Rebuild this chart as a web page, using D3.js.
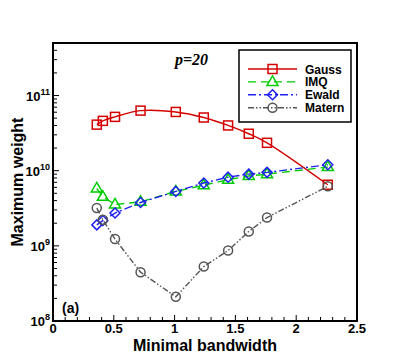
<!DOCTYPE html>
<html>
<head>
<meta charset="utf-8">
<script src="https://d3js.org/d3.v7.min.js"></script>
<style>
  body { margin: 0; background: #fff; }
  text { font-family: "Liberation Sans", Arial, sans-serif; font-weight: bold; }
</style>
</head>
<body>
<div id="graph"></div>
<script>
"use strict";

var bandwidth = [0.36, 0.41, 0.51, 0.72, 1.01, 1.24, 1.44, 1.61, 1.76, 2.26];
var gauss  = [4.1e10, 4.6e10, 5.2e10, 6.3e10, 6.05e10, 5.1e10, 4.0e10, 3.1e10, 2.35e10, 6.5e9];
var imq    = [5.8e9, 4.5e9, 3.55e9, 3.85e9, 5.3e9, 6.4e9, 7.6e9, 8.5e9, 9.0e9, 1.12e10];
var ewald  = [1.9e9, 2.17e9, 2.73e9, 3.77e9, 5.3e9, 6.85e9, 8.2e9, 9.0e9, 9.5e9, 1.2e10];
var matern = [3.18e9, 2.22e9, 1.23e9, 4.46e8, 2.1e8, 5.3e8, 8.65e8, 1.55e9, 2.38e9, 6.2e9];
var seriesNames = ["Gauss", "IMQ", "Ewald", "Matern"];
var xTicks = [0, 0.5, 1, 1.5, 2, 2.5];
var yTicks = [8, 9, 10, 11];

(function () {
    var W = 407, H = 362;
    var pLeft = 53, pTop = 43, pRight = 357, pBottom = 321;

    var x = d3.scaleLinear().domain([0, 2.5]).range([pLeft, pRight]);
    var y = d3.scaleLog().domain([1e8, 5e11]).range([pBottom, pTop]);

    var svg = d3.select("#graph").append("svg")
        .attr("width", W).attr("height", H);

    var series = [
        {name: "Gauss", values: gauss, color: "#d40000", dash: null, marker: "square", curve: d3.curveCatmullRom},
        {name: "IMQ", values: imq, color: "#00cc00", dash: "8,5", marker: "triangle", curve: d3.curveLinear},
        {name: "Ewald", values: ewald, color: "#2020f0", dash: "8,3,2,3", marker: "diamond", curve: d3.curveLinear},
        {name: "Matern", values: matern, color: "#555555", dash: "6,2,1.5,2,1.5,2", marker: "circle", curve: d3.curveLinear}
    ];

    function drawMarker(g, type, cx, cy, color) {
        if (type === "square") {
            g.append("rect").attr("x", cx - 4.5).attr("y", cy - 4.5)
                .attr("width", 9).attr("height", 9);
        } else if (type === "triangle") {
            g.append("path").attr("d", "M" + cx + "," + (cy - 6) + "L" + (cx + 5.5) + "," + (cy + 3.5) + "L" + (cx - 5.5) + "," + (cy + 3.5) + "Z");
        } else if (type === "diamond") {
            g.append("path").attr("d", "M" + cx + "," + (cy - 5) + "L" + (cx + 5) + "," + cy + "L" + cx + "," + (cy + 5) + "L" + (cx - 5) + "," + cy + "Z");
        } else {
            g.append("circle").attr("cx", cx).attr("cy", cy).attr("r", 4.5);
        }
        g.selectAll("*").attr("fill", "none").attr("stroke", color).attr("stroke-width", 1.5);
    }

    // series
    series.forEach(function (s) {
        var line = d3.line()
            .x(function (d, i) { return x(bandwidth[i]); })
            .y(function (d) { return y(d); })
            .curve(s.curve);
        svg.append("path")
            .datum(s.values)
            .attr("d", line)
            .attr("fill", "none")
            .attr("stroke", s.color)
            .attr("stroke-width", 1.4)
            .attr("stroke-dasharray", s.dash);
        s.values.forEach(function (v, i) {
            drawMarker(svg.append("g"), s.marker, x(bandwidth[i]), y(v), s.color);
        });
    });

    // x ticks
    d3.range(0, 25).forEach(function (k) {
        var v = k / 10;
        var major = k % 5 === 0;
        svg.append("line")
            .attr("x1", x(v)).attr("x2", x(v))
            .attr("y1", pBottom).attr("y2", pBottom - (major ? 6 : 4))
            .attr("stroke", "#000").attr("stroke-width", 1);
    });
    svg.selectAll(".xlab").data(xTicks).enter().append("text")
        .attr("x", function (d) { return x(d); })
        .attr("y", pBottom + 12)
        .attr("text-anchor", "middle")
        .attr("font-size", 13)
        .text(function (d) { return d; });

    // y ticks
    yTicks.forEach(function (e) {
        svg.append("line")
            .attr("x1", pLeft).attr("x2", pLeft + 6)
            .attr("y1", y(Math.pow(10, e))).attr("y2", y(Math.pow(10, e)))
            .attr("stroke", "#000");
        for (var m = 2; m <= 9; m++) {
            var v = m * Math.pow(10, e);
            if (v > 5e11) break;
            svg.append("line")
                .attr("x1", pLeft).attr("x2", pLeft + 4)
                .attr("y1", y(v)).attr("y2", y(v))
                .attr("stroke", "#000");
        }
        var t = svg.append("text")
            .attr("x", pLeft - 3)
            .attr("y", y(Math.pow(10, e)) + 5)
            .attr("text-anchor", "end")
            .attr("font-size", 13);
        t.append("tspan").text("10");
        t.append("tspan").attr("dy", -6).attr("font-size", 9).text(e);
    });

    // frame
    svg.append("rect")
        .attr("x", pLeft).attr("y", pTop)
        .attr("width", pRight - pLeft).attr("height", pBottom - pTop)
        .attr("fill", "none").attr("stroke", "#000").attr("stroke-width", 2);

    // axis titles
    svg.append("text")
        .attr("x", (pLeft + pRight) / 2).attr("y", 351)
        .attr("text-anchor", "middle").attr("font-size", 16)
        .text("Minimal bandwidth");
    svg.append("text")
        .attr("transform", "translate(23," + ((pTop + pBottom) / 2) + ") rotate(-90)")
        .attr("text-anchor", "middle").attr("font-size", 16)
        .text("Maximum weight");

    // annotations
    svg.append("text")
        .attr("x", 175).attr("y", 65)
        .attr("font-style", "italic").attr("font-size", 16)
        .style("font-family", "'Liberation Serif', 'Times New Roman', serif")
        .text("p=20");
    svg.append("text")
        .attr("x", 62).attr("y", 313)
        .attr("font-size", 14)
        .text("(a)");

    // legend
    var lg = svg.append("g");
    lg.append("rect")
        .attr("x", 239).attr("y", 50)
        .attr("width", 112).attr("height", 72)
        .attr("fill", "#fff").attr("stroke", "#000").attr("stroke-width", 1.5);
    series.forEach(function (s, i) {
        var ly = 69 + i * 12.9;
        lg.append("line")
            .attr("x1", 248).attr("x2", 297)
            .attr("y1", ly).attr("y2", ly)
            .attr("stroke", s.color).attr("stroke-width", 1.4)
            .attr("stroke-dasharray", s.dash);
        drawMarker(lg.append("g"), s.marker, 272.5, ly, s.color);
        lg.append("text")
            .attr("x", 305).attr("y", ly + 4.5)
            .attr("font-size", 12)
            .text(seriesNames[i]);
    });
})();
</script>
</body>
</html>
